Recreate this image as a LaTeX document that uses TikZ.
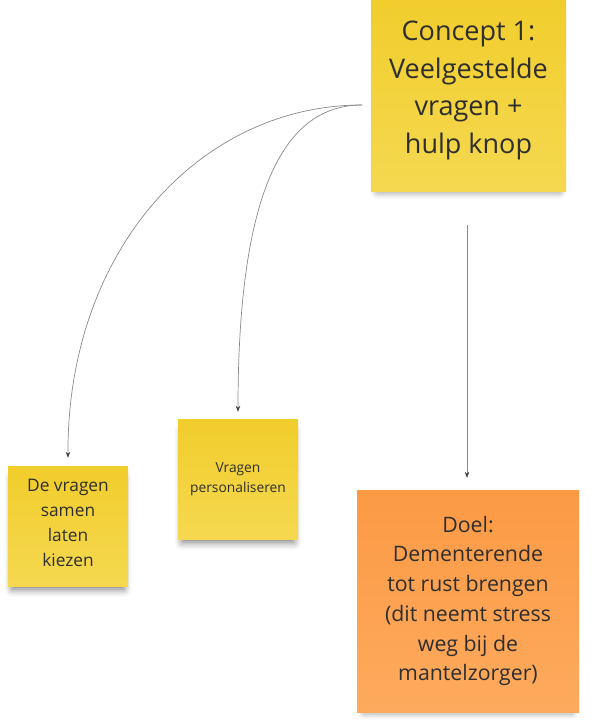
\documentclass[tikz,border=0pt]{standalone}
\usepackage{fontspec}
\setmainfont{Open Sans}
\usetikzlibrary{shadows.blur,arrows.meta}
\definecolor{stickyY1}{HTML}{F1CD2B}
\definecolor{stickyY2}{HTML}{F5D850}
\definecolor{stickyO1}{HTML}{FC9A44}
\definecolor{stickyO2}{HTML}{FDAA5E}
\definecolor{txt}{HTML}{2E2E2E}
\definecolor{wire}{HTML}{8A8A8A}
\tikzset{
  sticky/.style={inner sep=0pt, align=center, text=txt,
    blur shadow={shadow xshift=0pt, shadow yshift=-8pt, shadow blur radius=8pt,
      shadow opacity=55, shadow scale=0.93}},
  yellowsticky/.style={sticky, top color=stickyY1, bottom color=stickyY2},
  orangesticky/.style={sticky, top color=stickyO1, bottom color=stickyO2},
  wirearrow/.style={draw=wire, line width=0.7pt,
    -{Stealth[length=6pt,width=4.5pt,color=black!75]}},
}
\begin{document}
\begin{tikzpicture}[x=1pt,y=-1pt]
\useasboundingbox (0,0) rectangle (607,721);
\begin{scope}
\clip (0,0) rectangle (607,721);
\node[yellowsticky, minimum width=195pt, minimum height=201pt,
  font=\fontsize{27}{37.5}\selectfont] (concept) at (468.5,90.5)
  {Concept 1:\\Veelgestelde\\vragen +\\hulp knop};
\end{scope}
\node[yellowsticky, minimum width=120pt, minimum height=120pt,
  font=\fontsize{17.3}{25}\selectfont] (samen) at (68,526)
  {De vragen\\samen\\laten\\kiezen\\[-18pt]};
\node[yellowsticky, minimum width=120pt, minimum height=120pt,
  font=\fontsize{13.8}{20}\selectfont] (pers) at (238,479)
  {Vragen\\personaliseren};
\node[orangesticky, minimum width=222pt, minimum height=222pt,
  font=\fontsize{21.3}{29.7}\selectfont] (doel) at (468,601)
  {Doel:\\Dementerende\\tot rust brengen\\(dit neemt stress\\weg bij de\\mantelzorger)};
\coordinate (fan) at (362,105);
\coordinate (down) at (467,225);
\draw[wirearrow, shorten >=8pt] (fan) .. controls (200,105) and (67,250) .. (samen.north);
\draw[wirearrow, shorten >=7pt] (fan) .. controls (280,105) and (238,200) .. (pers.north);
\draw[wirearrow, shorten >=12pt] (down) -- (down |- doel.north);
\end{tikzpicture}
\end{document}
